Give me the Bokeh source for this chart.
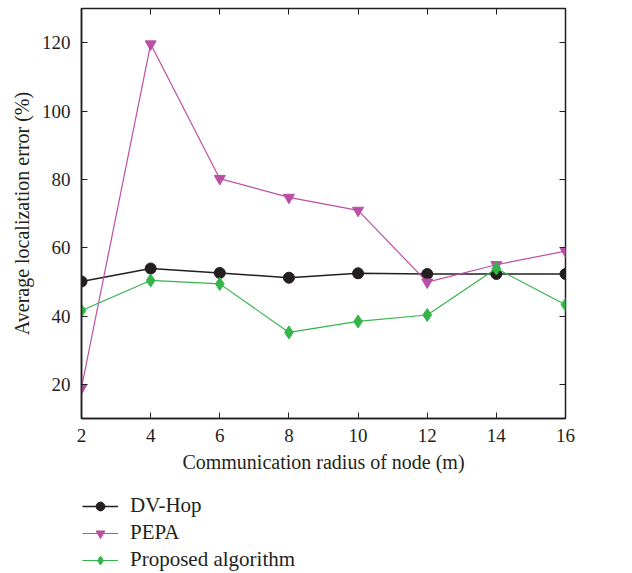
from bokeh.plotting import figure
from bokeh.layouts import column
from bokeh.models import LinearAxis, Legend, LegendItem, Range1d, FixedTicker
from bokeh.embed import file_html
from bokeh.resources import INLINE

radius = [2, 4, 6, 8, 10, 12, 14, 16]
dv_hop = [50.1, 53.9, 52.6, 51.2, 52.5, 52.3, 52.3, 52.3]
pepa = [19.0, 119.6, 80.2, 74.7, 70.9, 49.9, 55.0, 59.0]
proposed = [41.6, 50.4, 49.4, 35.2, 38.4, 40.3, 53.9, 43.3]
x_ticks = [2, 4, 6, 8, 10, 12, 14, 16]
y_ticks = [20, 40, 60, 80, 100, 120]
series_names = ["DV-Hop", "PEPA", "Proposed algorithm"]

FONT = "Liberation Serif"
C_DV = "#231f20"
C_PEPA = "#bb4fa5"
C_PROP = "#35b549"

p = figure(frame_width=484, frame_height=410, output_backend="svg", toolbar_location=None,
           x_range=Range1d(2, 16), y_range=Range1d(10, 130),
           min_border_left=81, min_border_top=8, min_border_right=67, min_border_bottom=65,
           x_axis_label="Communication radius of node (m)",
           y_axis_label="Average localization error (%)")
p.grid.visible = False
p.outline_line_color = "#231f20"
p.outline_line_width = 1.5
p.background_fill_color = "white"
p.border_fill_color = "white"

for ax in p.xaxis + p.yaxis:
    ax.major_tick_in = 6
    ax.major_tick_out = 0
    ax.minor_tick_line_color = None
    ax.axis_line_color = "#231f20"
    ax.axis_line_width = 1.5
    ax.major_tick_line_color = "#231f20"
    ax.major_label_text_font = FONT
    ax.major_label_text_font_size = "19px"
    ax.major_label_text_color = "#231f20"
    ax.axis_label_text_font = FONT
    ax.axis_label_text_font_size = "20px"
    ax.axis_label_text_font_style = "normal"
    ax.axis_label_text_color = "#231f20"
p.xaxis.ticker = FixedTicker(ticks=x_ticks)
p.yaxis.ticker = FixedTicker(ticks=y_ticks)
p.xaxis.major_label_standoff = 10
p.xaxis.axis_label_standoff = 6
p.yaxis.major_label_standoff = 11
p.yaxis.axis_label_standoff = 6

top = LinearAxis(ticker=FixedTicker(ticks=x_ticks), major_label_text_font_size="0px",
                 major_tick_in=6, major_tick_out=0, minor_tick_line_color=None,
                 axis_line_color=None, major_tick_line_color="#231f20")
right = LinearAxis(ticker=FixedTicker(ticks=y_ticks), major_label_text_font_size="0px",
                   major_tick_in=6, major_tick_out=0, minor_tick_line_color=None,
                   axis_line_color=None, major_tick_line_color="#231f20")
p.add_layout(top, "above")
p.add_layout(right, "right")

p.line(radius, dv_hop, color=C_DV, line_width=1.5)
p.scatter(radius, dv_hop, marker="circle", size=11, color=C_DV)
p.line(radius, pepa, color=C_PEPA, line_width=1.2)
p.scatter(radius, pepa, marker="inverted_triangle", size=11, color=C_PEPA)
p.line(radius, proposed, color=C_PROP, line_width=1.2)
p.scatter(radius, proposed, marker="diamond", size=13, color=C_PROP)

# legend panel below the chart: same series, ranges chosen so only the legend shows
lg = figure(width=632, height=90, output_backend="svg", toolbar_location=None,
            x_axis_type=None, y_axis_type=None, x_range=Range1d(1000, 1001), y_range=Range1d(1000, 1001),
            min_border=0, outline_line_color=None)
lg.grid.visible = False
k1 = lg.line(radius, dv_hop, color=C_DV, line_width=1.5)
s1 = lg.scatter(radius, dv_hop, marker="circle", size=9, color=C_DV)
k2 = lg.line(radius, pepa, color=C_PEPA, line_width=1.2)
s2 = lg.scatter(radius, pepa, marker="inverted_triangle", size=10, color=C_PEPA)
k3 = lg.line(radius, proposed, color=C_PROP, line_width=1.2)
s3 = lg.scatter(radius, proposed, marker="diamond", size=11, color=C_PROP)

legend = Legend(items=[
    LegendItem(label=series_names[0], renderers=[k1, s1]),
    LegendItem(label=series_names[1], renderers=[k2, s2]),
    LegendItem(label=series_names[2], renderers=[k3, s3]),
], location=(1, 1), orientation="vertical",
    label_text_font=FONT, label_text_font_size="21px", label_text_color="#231f20",
    glyph_width=36, glyph_height=22, label_standoff=12, spacing=2, label_height=22,
    border_line_color=None, background_fill_alpha=0, padding=0, margin=0)
lg.add_layout(legend)

layout = column(p, lg, spacing=0)
open("out.html", "w").write(file_html(layout, INLINE))
